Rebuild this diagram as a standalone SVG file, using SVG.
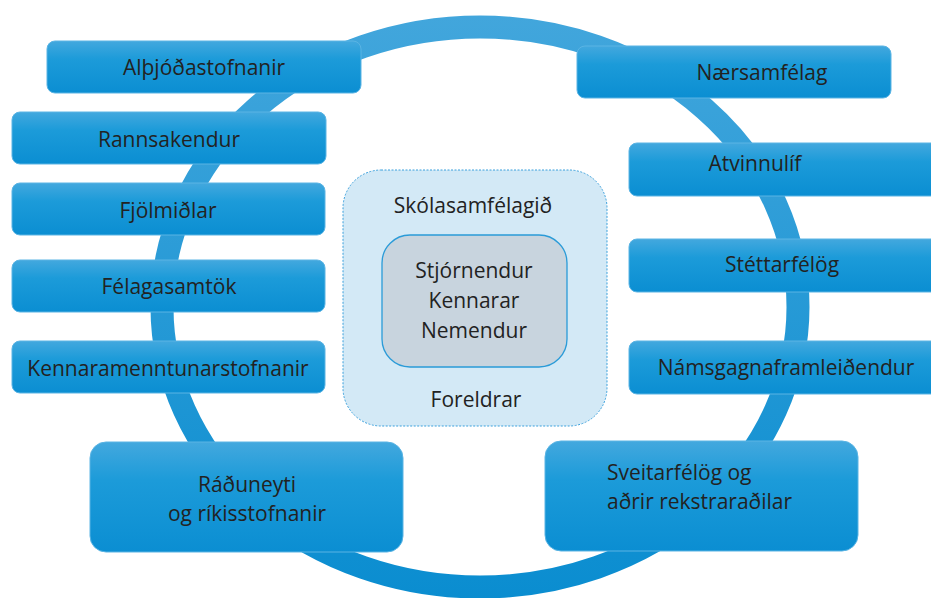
<svg xmlns="http://www.w3.org/2000/svg" width="931" height="598" viewBox="0 0 931 598">
<defs>
<linearGradient id="ringG" gradientUnits="userSpaceOnUse" x1="0" y1="15" x2="0" y2="600">
<stop offset="0" stop-color="#42a6dc"/>
<stop offset="1" stop-color="#0a8dd0"/>
</linearGradient>
<linearGradient id="boxG" x1="0" y1="0" x2="0" y2="1">
<stop offset="0" stop-color="#43a8de"/>
<stop offset="0.35" stop-color="#1c9bd9"/>
<stop offset="1" stop-color="#0b8ed2"/>
</linearGradient>
<style>
.box{fill:url(#boxG);stroke:#5ab4e4;stroke-width:1}
.t{font-family:"Open Sans","Noto Sans",sans-serif;font-size:21px;fill:#222;text-anchor:middle}
.l{text-anchor:start}
</style>
</defs>
<g id="connectors">
<ellipse cx="480" cy="307" rx="318" ry="280" fill="none" stroke="url(#ringG)" stroke-width="23"/>
</g>
<g id="center">
<rect x="343" y="170" width="264" height="256" rx="38" fill="#d3e9f6" stroke="#3aa0dc" stroke-width="1" stroke-dasharray="2,1.5"/>
<text class="t" x="473" y="213">Skólasamfélagið</text>
<rect x="382" y="235" width="185" height="132" rx="28" fill="#c8d4de" stroke="#2a9bd8" stroke-width="1.3"/>
<text class="t" x="474" y="278">Stjórnendur</text>
<text class="t" x="474" y="308">Kennarar</text>
<text class="t" x="474" y="338">Nemendur</text>
<text class="t" x="476" y="407">Foreldrar</text>
</g>
<g id="n1"><rect class="box" x="47" y="41" width="314" height="52" rx="8"/><text class="t" x="204" y="75">Alþjóðastofnanir</text></g>
<g id="n2"><rect class="box" x="12" y="112" width="314" height="52" rx="8"/><text class="t" x="169" y="147">Rannsakendur</text></g>
<g id="n3"><rect class="box" x="12" y="183" width="313" height="52" rx="8"/><text class="t" x="168" y="218">Fjölmiðlar</text></g>
<g id="n4"><rect class="box" x="12" y="260" width="313" height="52" rx="8"/><text class="t" x="169" y="294">Félagasamtök</text></g>
<g id="n5"><rect class="box" x="12" y="341" width="313" height="52" rx="8"/><text class="t" x="168" y="376">Kennaramenntunarstofnanir</text></g>
<g id="n6"><rect class="box" x="90" y="442" width="313" height="110" rx="16"/><text class="t" x="247" y="492">Ráðuneyti</text><text class="t" x="247" y="521">og ríkisstofnanir</text></g>
<g id="n7"><rect class="box" x="577" y="46" width="314" height="52" rx="8"/><text class="t" x="762" y="80">Nærsamfélag</text></g>
<g id="n8"><rect class="box" x="629" y="143" width="314" height="53" rx="8"/><text class="t" x="755" y="171">Atvinnulíf</text></g>
<g id="n9"><rect class="box" x="629" y="239" width="314" height="53" rx="8"/><text class="t" x="782" y="272">Stéttarfélög</text></g>
<g id="n10"><rect class="box" x="629" y="341" width="314" height="53" rx="8"/><text class="t" x="786" y="375">Námsgagnaframleiðendur</text></g>
<g id="n11"><rect class="box" x="545" y="441" width="313" height="110" rx="16"/><text class="t l" x="607" y="480">Sveitarfélög og</text><text class="t l" x="607" y="509">aðrir rekstraraðilar</text></g>
</svg>
